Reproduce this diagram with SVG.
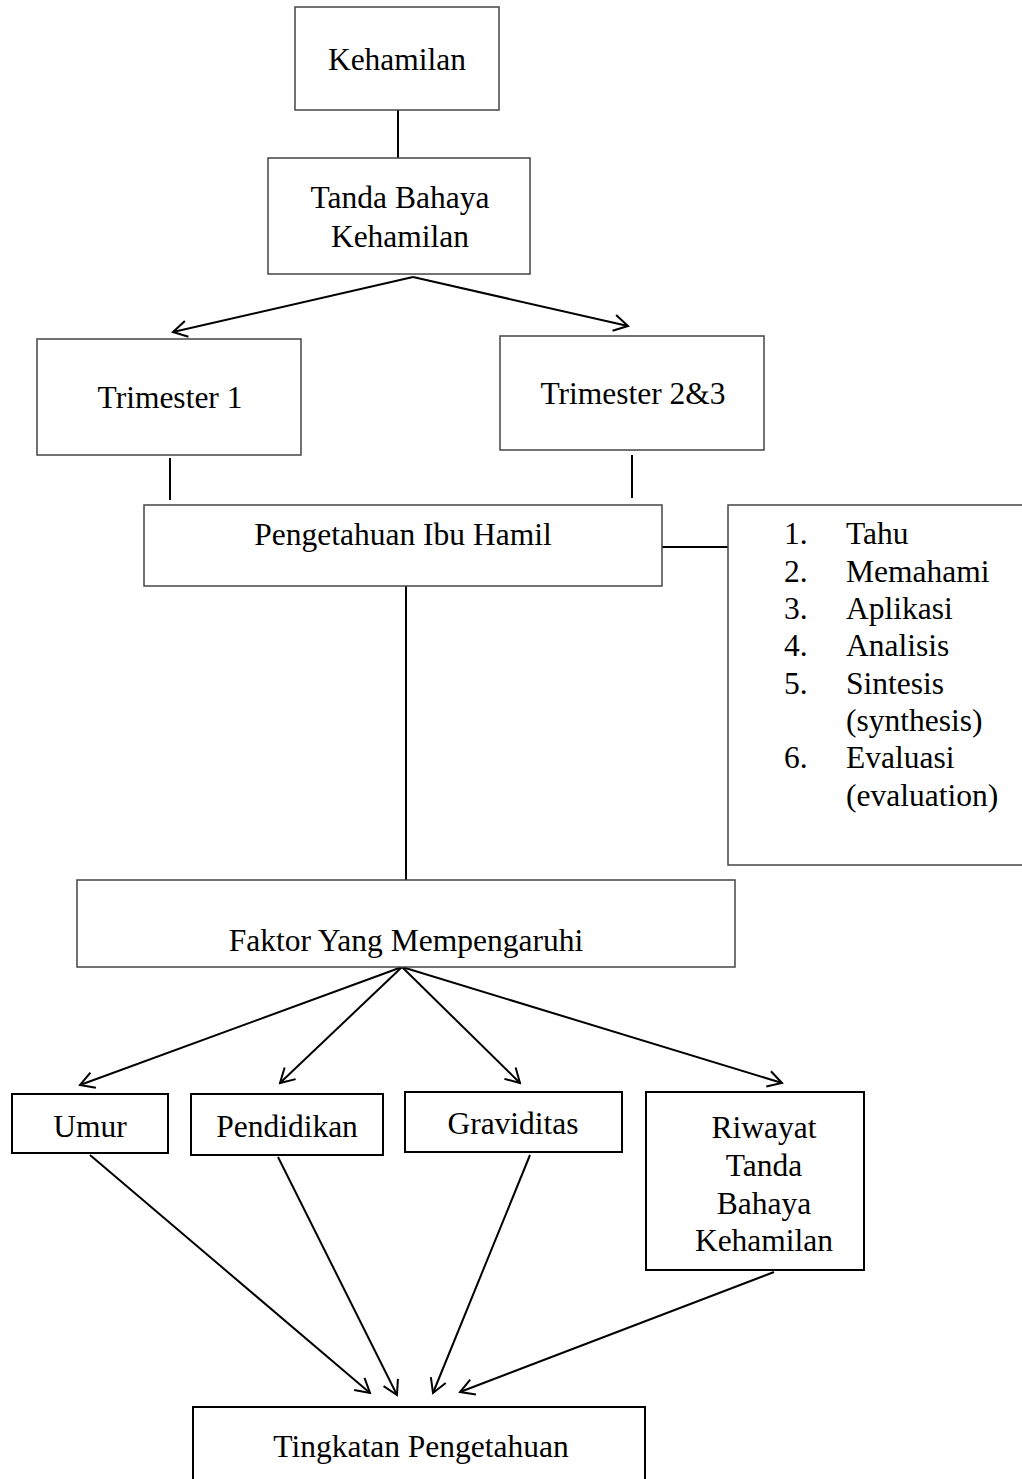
<svg xmlns="http://www.w3.org/2000/svg" width="1022" height="1479" viewBox="0 0 1022 1479">
<style>
text{font-family:"Liberation Serif","Times New Roman",serif;font-size:31.5px;fill:#000}
.c{text-anchor:middle}
.box{fill:#fff;stroke:#444;stroke-width:1.5}
.box2{fill:#fff;stroke:#000;stroke-width:2}
.ln{stroke:#000;stroke-width:2;fill:none}
</style>
<defs>
<marker id="ah" viewBox="0 0 18 18" refX="16" refY="9" markerWidth="18" markerHeight="18" markerUnits="userSpaceOnUse" orient="auto">
<path d="M2,1 L16,9 L2,17" fill="none" stroke="#000" stroke-width="2"/>
</marker>
</defs>
<rect width="1022" height="1479" fill="#fff"/>
<g id="connectors">
<line class="ln" x1="398" y1="110" x2="398" y2="158"/>
<line class="ln" x1="413" y1="277" x2="173" y2="332" marker-end="url(#ah)"/>
<line class="ln" x1="413" y1="277" x2="628" y2="326" marker-end="url(#ah)"/>
<line class="ln" x1="170" y1="458" x2="170" y2="500"/>
<line class="ln" x1="632" y1="455" x2="632" y2="498"/>
<line class="ln" x1="662" y1="547" x2="728" y2="547"/>
<line class="ln" x1="406" y1="586" x2="406" y2="880"/>
<line class="ln" x1="402" y1="967" x2="80" y2="1085" marker-end="url(#ah)"/>
<line class="ln" x1="402" y1="967" x2="280" y2="1083" marker-end="url(#ah)"/>
<line class="ln" x1="402" y1="967" x2="520" y2="1083" marker-end="url(#ah)"/>
<line class="ln" x1="402" y1="967" x2="782" y2="1083" marker-end="url(#ah)"/>
<line class="ln" x1="90" y1="1155" x2="370" y2="1393" marker-end="url(#ah)"/>
<line class="ln" x1="278" y1="1157" x2="397" y2="1395" marker-end="url(#ah)"/>
<line class="ln" x1="530" y1="1155" x2="433" y2="1393" marker-end="url(#ah)"/>
<line class="ln" x1="774" y1="1272" x2="460" y2="1392" marker-end="url(#ah)"/>
</g>
<g id="kehamilan">
<rect class="box" x="295" y="7" width="204" height="103"/>
<text class="c" x="397" y="70">Kehamilan</text>
</g>
<g id="tanda-bahaya">
<rect class="box" x="268" y="158" width="262" height="116"/>
<text class="c" x="400" y="208">Tanda Bahaya</text>
<text class="c" x="400" y="247">Kehamilan</text>
</g>
<g id="trimester1">
<rect class="box" x="37" y="339" width="264" height="116"/>
<text class="c" x="170" y="408">Trimester 1</text>
</g>
<g id="trimester23">
<rect class="box" x="500" y="336" width="264" height="114"/>
<text class="c" x="633" y="404">Trimester 2&amp;3</text>
</g>
<g id="pengetahuan">
<rect class="box" x="144" y="505" width="518" height="81"/>
<text class="c" x="403" y="545">Pengetahuan Ibu Hamil</text>
</g>
<g id="list">
<rect class="box" x="728" y="505" width="310" height="360"/>
<text x="784" y="544">1.</text><text x="846" y="544">Tahu</text>
<text x="784" y="582">2.</text><text x="846" y="582">Memahami</text>
<text x="784" y="619">3.</text><text x="846" y="619">Aplikasi</text>
<text x="784" y="656">4.</text><text x="846" y="656">Analisis</text>
<text x="784" y="694">5.</text><text x="846" y="694">Sintesis</text>
<text x="846" y="731">(synthesis)</text>
<text x="784" y="768">6.</text><text x="846" y="768">Evaluasi</text>
<text x="846" y="806">(evaluation)</text>
</g>
<g id="faktor">
<rect class="box" x="77" y="880" width="658" height="87"/>
<text class="c" x="406" y="951">Faktor Yang Mempengaruhi</text>
</g>
<g id="umur">
<rect class="box2" x="12" y="1094" width="156" height="59"/>
<text class="c" x="90" y="1137">Umur</text>
</g>
<g id="pendidikan">
<rect class="box2" x="191" y="1094" width="192" height="61"/>
<text class="c" x="287" y="1137">Pendidikan</text>
</g>
<g id="graviditas">
<rect class="box2" x="405" y="1092" width="217" height="60"/>
<text class="c" x="513" y="1134">Graviditas</text>
</g>
<g id="riwayat">
<rect class="box2" x="646" y="1092" width="218" height="178"/>
<text class="c" x="764" y="1138">Riwayat</text>
<text class="c" x="764" y="1176">Tanda</text>
<text class="c" x="764" y="1214">Bahaya</text>
<text class="c" x="764" y="1251">Kehamilan</text>
</g>
<g id="tingkatan">
<rect class="box2" x="193" y="1407" width="452" height="90"/>
<text class="c" x="421" y="1457">Tingkatan Pengetahuan</text>
</g>
</svg>
